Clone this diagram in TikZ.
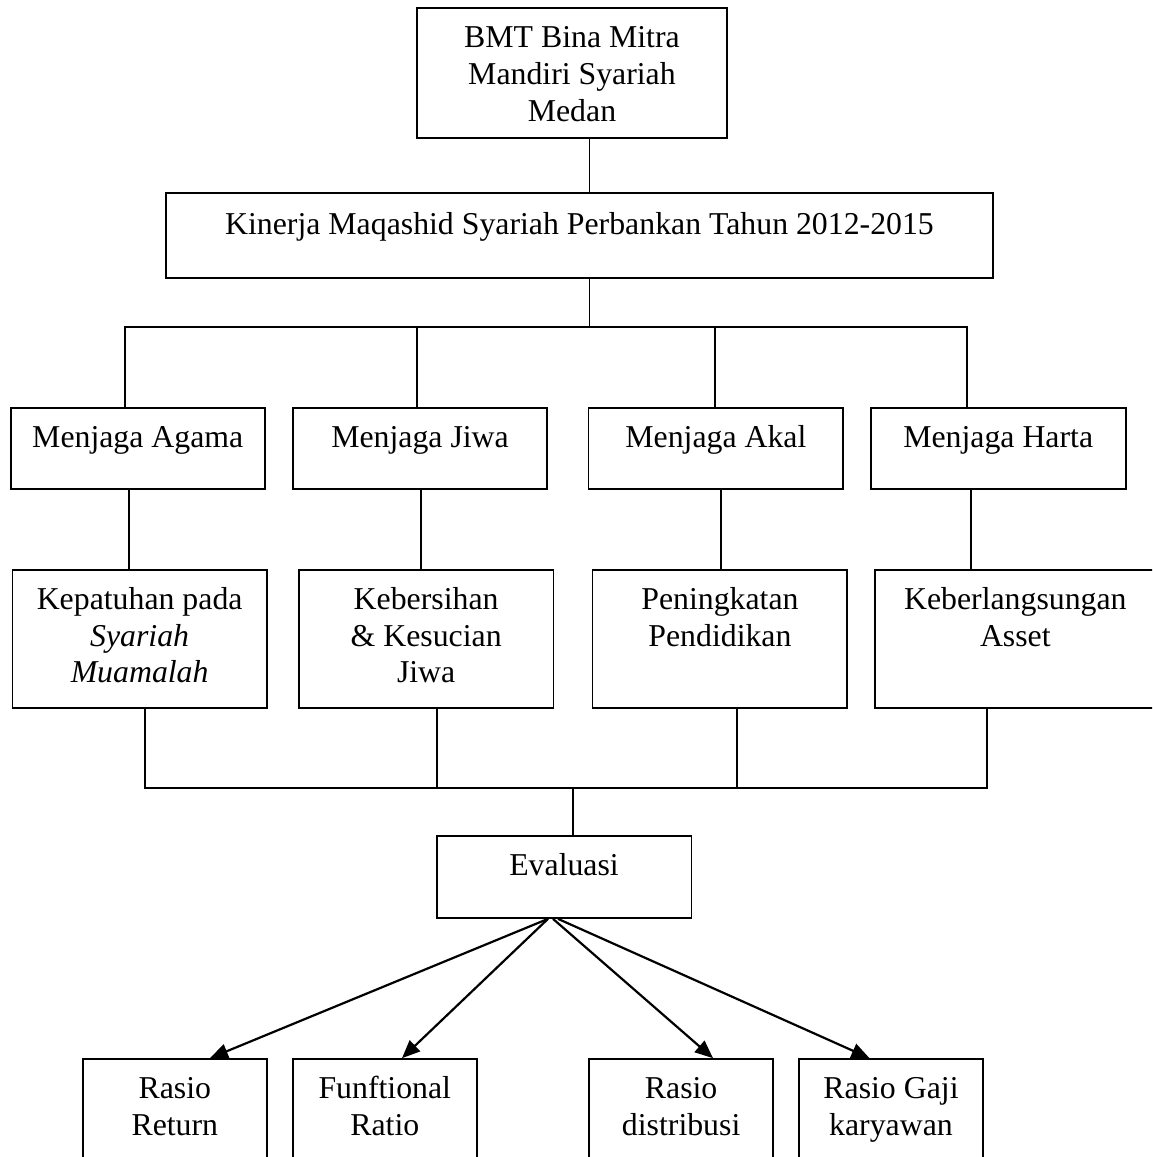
\documentclass[tikz,border=0pt]{standalone}
\usepackage{fontspec}
\setmainfont{Liberation Serif}
\usetikzlibrary{arrows.meta}
\begin{document}
\begin{tikzpicture}[x=1pt,y=-1pt,
  box/.style={draw, line width=1.7pt, inner sep=0pt},
  lbl/.style={anchor=north, inner sep=0pt, align=center, font=\fontsize{31.8}{36.7}\selectfont},
  conn/.style={line width=1.8pt},
  arr/.style={line width=2.2pt, -{Triangle[length=18pt,width=15pt]}}]
\useasboundingbox (0,0) rectangle (1152,1157);
\clip (0,0) rectangle (1152,1157);
% boxes (centre, width, height)
\node[box, minimum width=310pt, minimum height=130pt] (top) at (572,73.3) {};
\node[box, minimum width=827pt, minimum height=85pt] (kin) at (579.5,235.2) {};
\node[box, minimum width=254.1pt, minimum height=81.6pt] (ag) at (137.75,448.5) {};
\node[box, minimum width=254.5pt, minimum height=81.6pt] (jw) at (420.05,448.5) {};
\node[box, minimum width=254.6pt, minimum height=81.6pt] (ak) at (715.9,448.5) {};
\node[box, minimum width=255pt, minimum height=81.6pt] (ha) at (998.2,448.5) {};
\node[box, minimum width=254.1pt, minimum height=137.7pt] (kp) at (139.65,638.85) {};
\node[box, minimum width=254.5pt, minimum height=137.7pt] (kb) at (426.15,638.85) {};
\node[box, minimum width=254.7pt, minimum height=137.7pt] (pp) at (719.95,638.85) {};
\node[box, minimum width=281.3pt, minimum height=137.7pt] (ka) at (1015.35,638.85) {};
\node[box, minimum width=254.7pt, minimum height=82.3pt] (ev) at (564.05,876.85) {};
\node[box, minimum width=183.7pt, minimum height=141pt] (rr) at (174.85,1129.5) {};
\node[box, minimum width=184pt, minimum height=141pt] (fr) at (384.8,1129.5) {};
\node[box, minimum width=184.3pt, minimum height=141pt] (rd) at (681.15,1129.5) {};
\node[box, minimum width=184pt, minimum height=141pt] (rg) at (891,1129.5) {};
% labels
\node[lbl] (topT) at ([yshift=-14.3pt]top.north) {\strut BMT Bina Mitra\\Mandiri Syariah\\Medan};
\node[lbl] (kinT) at ([yshift=-16.3pt]kin.north) {\strut Kinerja Maqashid Syariah Perbankan Tahun 2012-2015};
\node[lbl] (agT) at ([yshift=-14.3pt]ag.north) {\strut Menjaga Agama};
\node[lbl] (jwT) at ([yshift=-14.3pt]jw.north) {\strut Menjaga Jiwa};
\node[lbl] (akT) at ([yshift=-14.3pt]ak.north) {\strut Menjaga Akal};
\node[lbl] (haT) at ([yshift=-14.3pt]ha.north) {\strut Menjaga Harta};
\node[lbl] (kpT) at ([yshift=-14.3pt]kp.north) {\strut Kepatuhan pada\\\textit{Syariah}\\\textit{Muamalah}};
\node[lbl] (kbT) at ([yshift=-14.3pt]kb.north) {\strut Kebersihan\\\&{} Kesucian\\Jiwa};
\node[lbl] (ppT) at ([yshift=-14.3pt]pp.north) {\strut Peningkatan\\Pendidikan};
\node[lbl] (kaT) at ([yshift=-14.3pt]ka.north) {\strut Keberlangsungan\\Asset};
\node[lbl] (evT) at ([yshift=-14.3pt]ev.north) {\strut Evaluasi};
\node[lbl] (rrT) at ([yshift=-14.3pt]rr.north) {\strut Rasio\\Return};
\node[lbl] (frT) at ([yshift=-14.3pt]fr.north) {\strut Funftional\\Ratio};
\node[lbl] (rdT) at ([yshift=-14.3pt]rd.north) {\strut Rasio\\distribusi};
\node[lbl] (rgT) at ([yshift=-14.3pt]rg.north) {\strut Rasio Gaji\\karyawan};
% junction coordinates
\coordinate (b0) at (589.4,326.7);
\coordinate (b1) at (125,326.7);
\coordinate (b2) at (417,326.7);
\coordinate (b3) at (715,326.7);
\coordinate (b4) at (967,326.7);
\coordinate (c1) at (129,0);
\coordinate (c2) at (421,0);
\coordinate (c3) at (721,0);
\coordinate (c4) at (971,0);
\coordinate (d1) at (145,787.7);
\coordinate (d2) at (437,787.7);
\coordinate (d3) at (737,787.7);
\coordinate (d4) at (987,787.7);
\coordinate (e0) at (573,787.7);
\coordinate (o1) at (548,0);
\coordinate (o2) at (553,0);
\coordinate (o3) at (558,0);
\coordinate (t1) at (210,0);
\coordinate (t2) at (402,0);
\coordinate (t3) at (713,0);
\coordinate (t4) at (869.5,0);
% connectors
\draw[conn] (top.south -| b0) -- (kin.north -| b0);
\draw[conn] (kin.south -| b0) -- (b0);
\draw[conn] (ag.north -| b1) -- (b1) -- (b4) -- (ha.north -| b4);
\draw[conn] (b2) -- (jw.north -| b2);
\draw[conn] (b3) -- (ak.north -| b3);
\draw[conn] (ag.south -| c1) -- (kp.north -| c1);
\draw[conn] (jw.south -| c2) -- (kb.north -| c2);
\draw[conn] (ak.south -| c3) -- (pp.north -| c3);
\draw[conn] (ha.south -| c4) -- (ka.north -| c4);
\draw[conn] (kp.south -| d1) -- (d1) -- (d4) -- (ka.south -| d4);
\draw[conn] (kb.south -| d2) -- (d2);
\draw[conn] (pp.south -| d3) -- (d3);
\draw[conn] (e0) -- (ev.north -| e0);
\draw[arr] (ev.south -| o1) -- (rr.north -| t1);
\draw[arr] (ev.south -| o1) -- (fr.north -| t2);
\draw[arr] (ev.south -| o2) -- (rd.north -| t3);
\draw[arr] (ev.south -| o3) -- (rg.north -| t4);
\end{tikzpicture}
\end{document}
